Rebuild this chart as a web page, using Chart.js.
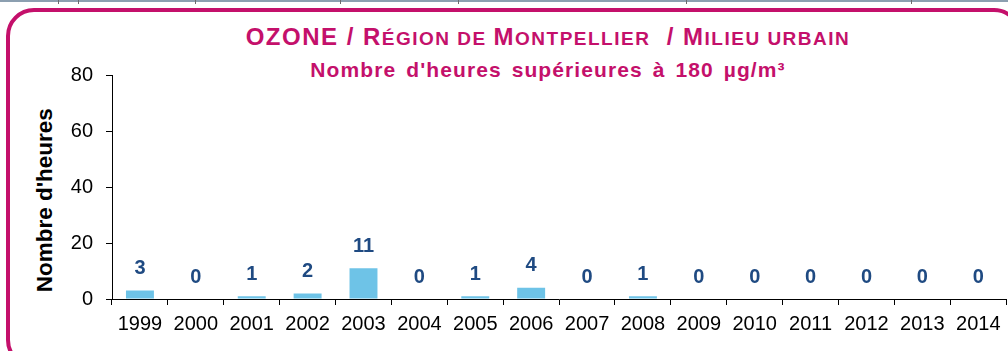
<!DOCTYPE html>
<html lang="fr">
<head>
    <meta charset="UTF-8">
    <title>Ozone - Montpellier</title>
    <script src="https://cdn.jsdelivr.net/npm/chart.js"></script>
    <style>
        body {
            margin: 0;
            width: 1008px;
            height: 351px;
            overflow: hidden;
            background: #ffffff;
            font-family: "Liberation Sans", Arial, sans-serif;
            position: relative;
        }

        .top-rule {
            position: absolute;
            left: 0;
            top: 0;
            width: 1008px;
            height: 2px;
            background: #8c9fb0;
        }

        .top-rule span {
            position: absolute;
            top: 0;
            width: 1px;
            height: 4px;
            background: #6b6b6b;
        }

        .frame {
            position: absolute;
            left: 6px;
            top: 8px;
            width: 1016px;
            height: 360px;
            border: 4px solid #c4106b;
            border-radius: 28px;
            box-sizing: border-box;
        }

        .title {
            position: absolute;
            left: 88px;
            width: 920px;
            text-align: center;
            white-space: nowrap;
            color: #c4106b;
            font-weight: bold;
            line-height: 1;
        }

        .title1 {
            top: 25px;
            font-size: 24px;
            letter-spacing: 1.5px;
        }

        .title1 .sc {
            font-size: 19px;
        }

        .title2 {
            top: 59px;
            font-size: 21px;
            letter-spacing: 1.1px;
            word-spacing: 3px;
        }

        .ytitle {
            position: absolute;
            left: -105px;
            top: 189px;
            width: 300px;
            text-align: center;
            font-size: 22.5px;
            font-weight: bold;
            line-height: 1;
            color: #000;
            transform: rotate(-90deg);
        }

        #chartBox {
            position: absolute;
            left: 0;
            top: 0;
            width: 1008px;
            height: 351px;
        }
    </style>
</head>
<body>
    <div class="top-rule">
        <span style="left:58px"></span>
        <span style="left:78px"></span>
        <span style="left:195px"></span>
        <span style="left:340px"></span>
        <span style="left:458px"></span>
        <span style="left:686px"></span>
        <span style="left:911px"></span>
    </div>
    <div class="frame"></div>

    <div class="title title1">OZONE / R<span class="sc">ÉGION DE </span>M<span class="sc">ONTPELLIER</span>&nbsp; / M<span class="sc">ILIEU URBAIN</span></div>
    <div class="title title2">Nombre d'heures supérieures à 180 µg/m³</div>
    <div class="ytitle">Nombre d'heures</div>

    <div id="chartBox">
        <canvas id="ozoneChart"></canvas>
    </div>

    <script>
        // Hours above the 180 µg/m³ threshold, per year
        const years = ['1999', '2000', '2001', '2002', '2003', '2004', '2005', '2006',
                       '2007', '2008', '2009', '2010', '2011', '2012', '2013', '2014'];
        const hours = [3, 0, 1, 2, 11, 0, 1, 4, 0, 1, 0, 0, 0, 0, 0, 0];
        const yTicks = [0, 20, 40, 60, 80];

        const barColor = '#6ec3e7';
        const valueColor = '#1f4a82';

        // Writes the value above each bar
        const valueLabels = {
            id: 'valueLabels',
            afterDatasetsDraw(chart) {
                const ctx = chart.ctx;
                const meta = chart.getDatasetMeta(0);
                ctx.save();
                ctx.font = 'bold 20px "Liberation Sans", Arial, sans-serif';
                ctx.fillStyle = valueColor;
                ctx.textAlign = 'center';
                ctx.textBaseline = 'middle';
                meta.data.forEach((bar, i) => {
                    ctx.fillText(String(hours[i]), bar.x, bar.y - 22);
                });
                ctx.restore();
            }
        };

        const ctx = document.getElementById('ozoneChart').getContext('2d');
        new Chart(ctx, {
            type: 'bar',
            data: {
                labels: years,
                datasets: [{
                    data: hours,
                    backgroundColor: barColor,
                    borderWidth: 0,
                    barPercentage: 0.5,
                    categoryPercentage: 1.0
                }]
            },
            options: {
                responsive: true,
                maintainAspectRatio: false,
                animation: false,
                layout: {
                    padding: { top: 75, right: 0, bottom: 7, left: 0 }
                },
                plugins: {
                    legend: { display: false },
                    tooltip: { enabled: false }
                },
                scales: {
                    x: {
                        offset: true,
                        grid: {
                            display: true,
                            offset: true,
                            drawOnChartArea: false,
                            tickLength: 6,
                            color: '#000'
                        },
                        border: { display: true, color: '#000', width: 1 },
                        ticks: {
                            color: '#000',
                            padding: 7.5,
                            maxRotation: 0,
                            autoSkip: false,
                            font: { family: '"Liberation Sans", Arial, sans-serif', size: 20 }
                        }
                    },
                    y: {
                        min: yTicks[0],
                        max: yTicks[yTicks.length - 1],
                        afterFit(scale) {
                            scale.width = 112;
                        },
                        grid: {
                            display: true,
                            drawOnChartArea: false,
                            tickLength: 6,
                            color: '#000'
                        },
                        border: { display: true, color: '#000', width: 1 },
                        ticks: {
                            stepSize: yTicks[1] - yTicks[0],
                            color: '#000',
                            padding: 13,
                            font: { family: '"Liberation Sans", Arial, sans-serif', size: 20 }
                        }
                    }
                }
            },
            plugins: [valueLabels]
        });
    </script>
</body>
</html>
